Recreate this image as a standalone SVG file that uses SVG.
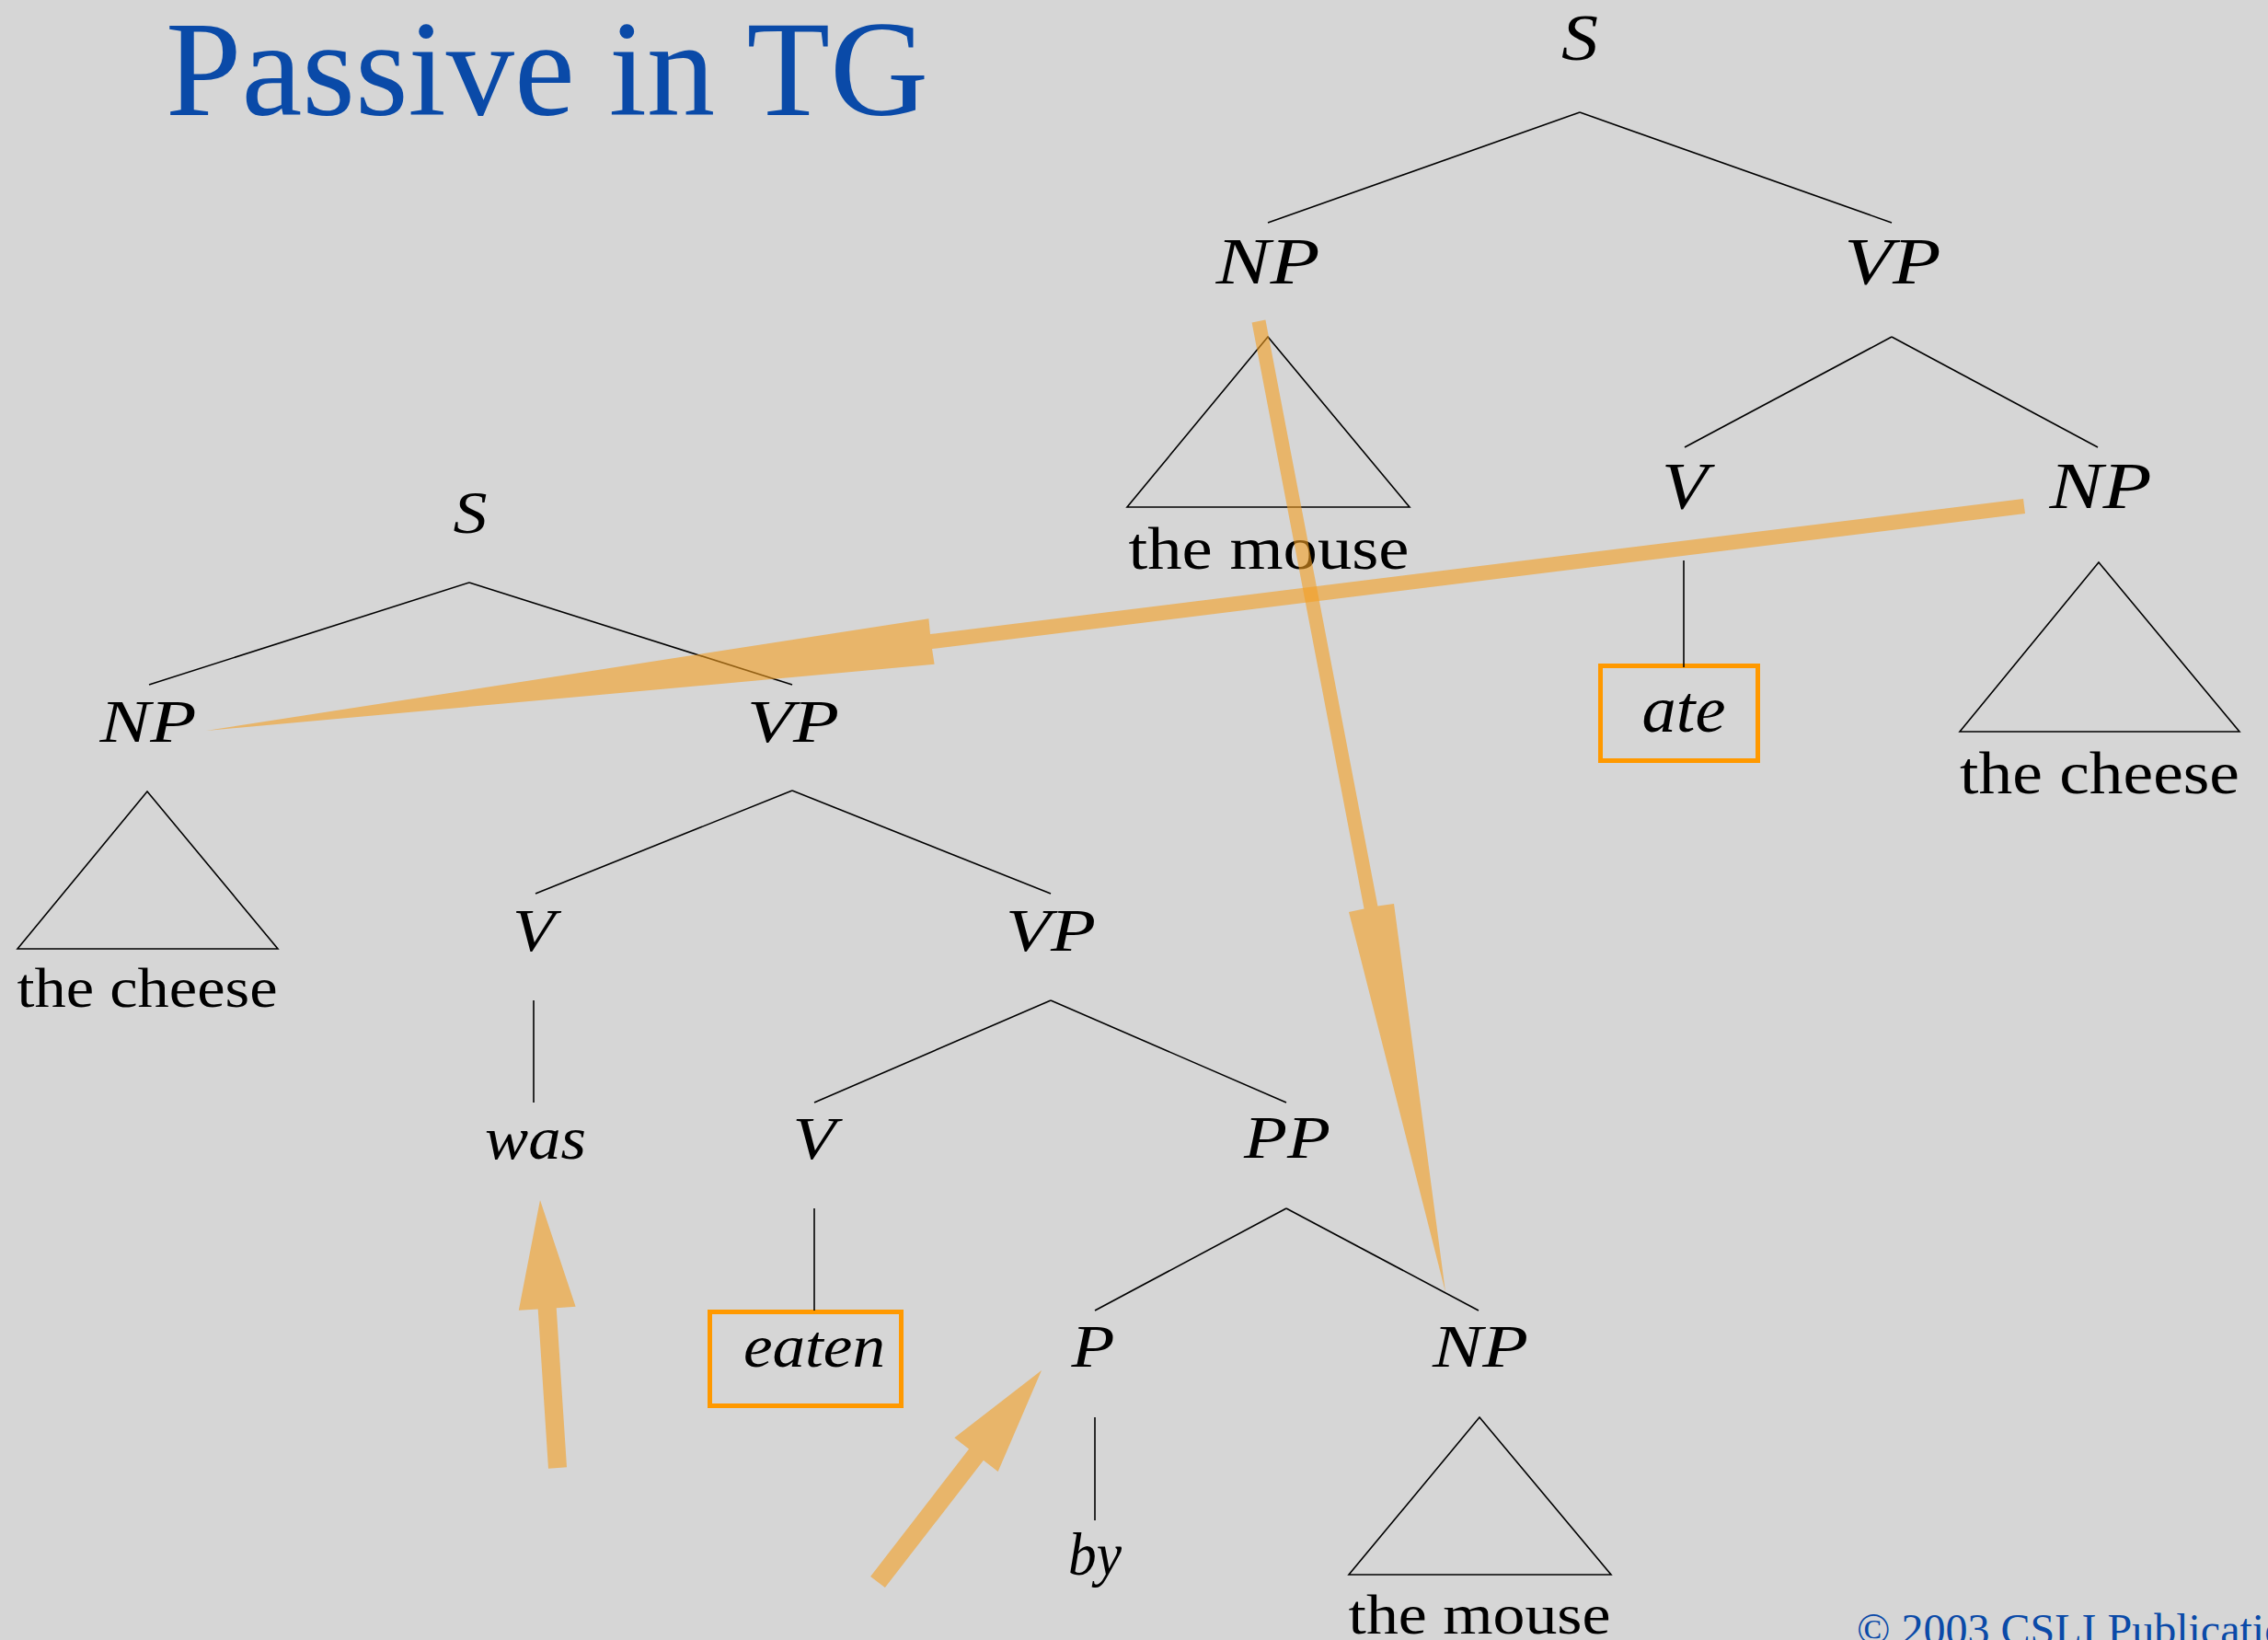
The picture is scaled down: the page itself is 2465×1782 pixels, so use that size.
<svg xmlns="http://www.w3.org/2000/svg" width="2465" height="1782" viewBox="0 0 2465 1782">
<style>
.bg{fill:#d6d6d6}
.title{font-family:"Liberation Serif",serif;fill:#0a4aa8}
.it{font-family:"Liberation Serif",serif;font-style:italic;fill:#000;text-anchor:middle}
.rm{font-family:"Liberation Serif",serif;fill:#000;text-anchor:middle}
.big{font-size:71px}
.bigr{font-size:66px}
.sm{font-size:66px}
.smr{font-size:62px}
.edge{stroke:#000;stroke-width:1.6;fill:none}
.tri{stroke:#000;stroke-width:1.6;fill:none;stroke-linejoin:miter}
.box{stroke:#ff9900;stroke-width:5;fill:none}
.mv{fill:#f39f22;fill-opacity:0.6}
</style>
<rect class="bg" x="0" y="0" width="2465" height="1782"/>
<text class="title" x="180" y="125" font-size="148" textLength="829" lengthAdjust="spacingAndGlyphs">Passive in TG</text>

<g id="active-tree">
<g id="a-S"><text class="it big" x="1717" y="65" textLength="40" lengthAdjust="spacingAndGlyphs">S</text></g>
<g id="a-NP"><text class="it big" x="1378" y="308" textLength="113" lengthAdjust="spacingAndGlyphs">NP</text></g>
<g id="a-VP"><text class="it big" x="2057" y="308" textLength="105" lengthAdjust="spacingAndGlyphs">VP</text></g>
<g id="a-NP-mouse"><polygon class="tri" points="1378,366 1225,551 1532,551"/><text class="rm bigr" x="1379" y="618" textLength="305" lengthAdjust="spacingAndGlyphs">the mouse</text></g>
<g id="a-V"><text class="it big" x="1831" y="552" textLength="50" lengthAdjust="spacingAndGlyphs">V</text></g>
<g id="a-NP2"><text class="it big" x="2283" y="552" textLength="111" lengthAdjust="spacingAndGlyphs">NP</text></g>
<g id="a-ate"><rect class="box" x="1739.5" y="723.5" width="171" height="103"/><text class="it big" x="1830" y="795" textLength="91" lengthAdjust="spacingAndGlyphs">ate</text></g>
<g id="a-NP2-cheese"><polygon class="tri" points="2281,611 2130,795 2434,795"/><text class="rm bigr" x="2282" y="862" textLength="304" lengthAdjust="spacingAndGlyphs">the cheese</text></g>
</g>

<g id="passive-tree">
<g id="p-S"><text class="it sm" x="511" y="579" textLength="37" lengthAdjust="spacingAndGlyphs">S</text></g>
<g id="p-NP"><text class="it sm" x="161" y="806" textLength="105" lengthAdjust="spacingAndGlyphs">NP</text></g>
<g id="p-VP"><text class="it sm" x="862" y="806" textLength="100" lengthAdjust="spacingAndGlyphs">VP</text></g>
<g id="p-NP-cheese"><polygon class="tri" points="160,860 19,1031 302,1031"/><text class="rm smr" x="160" y="1094" textLength="283" lengthAdjust="spacingAndGlyphs">the cheese</text></g>
<g id="p-V"><text class="it sm" x="580" y="1033" textLength="46" lengthAdjust="spacingAndGlyphs">V</text></g>
<g id="p-VP2"><text class="it sm" x="1142" y="1033" textLength="98" lengthAdjust="spacingAndGlyphs">VP</text></g>
<g id="p-was"><text class="it sm" x="582" y="1259" textLength="110" lengthAdjust="spacingAndGlyphs">was</text></g>
<g id="p-V2"><text class="it sm" x="885" y="1259" textLength="47" lengthAdjust="spacingAndGlyphs">V</text></g>
<g id="p-PP"><text class="it sm" x="1399" y="1258" textLength="94" lengthAdjust="spacingAndGlyphs">PP</text></g>
<g id="p-eaten"><rect class="box" x="771.5" y="1425.5" width="208" height="102"/><text class="it sm" x="885" y="1485" textLength="154" lengthAdjust="spacingAndGlyphs">eaten</text></g>
<g id="p-P"><text class="it sm" x="1188" y="1485" textLength="47" lengthAdjust="spacingAndGlyphs">P</text></g>
<g id="p-NP3"><text class="it sm" x="1609" y="1485" textLength="104" lengthAdjust="spacingAndGlyphs">NP</text></g>
<g id="p-by"><text class="it sm" x="1190" y="1711" textLength="58" lengthAdjust="spacingAndGlyphs">by</text></g>
<g id="p-NP3-mouse"><polygon class="tri" points="1608,1540 1466,1711 1751,1711"/><text class="rm smr" x="1608" y="1775" textLength="285" lengthAdjust="spacingAndGlyphs">the mouse</text></g>
</g>

<g id="connectors">
<g id="tree-edges">
<line class="edge" x1="1717" y1="122" x2="1378" y2="242"/>
<line class="edge" x1="1717" y1="122" x2="2056" y2="242"/>
<line class="edge" x1="2056" y1="366" x2="1831" y2="486"/>
<line class="edge" x1="2056" y1="366" x2="2280" y2="486"/>
<line class="edge" x1="1830" y1="609" x2="1830" y2="725"/>
<line class="edge" x1="510" y1="633" x2="162" y2="744"/>
<line class="edge" x1="510" y1="633" x2="861" y2="744"/>
<line class="edge" x1="861" y1="859" x2="582" y2="971"/>
<line class="edge" x1="861" y1="859" x2="1142" y2="971"/>
<line class="edge" x1="580" y1="1087" x2="580" y2="1198"/>
<line class="edge" x1="1142" y1="1087" x2="885" y2="1198"/>
<line class="edge" x1="1142" y1="1087" x2="1398" y2="1198"/>
<line class="edge" x1="885" y1="1313" x2="885" y2="1424"/>
<line class="edge" x1="1398" y1="1313" x2="1190" y2="1424"/>
<line class="edge" x1="1398" y1="1313" x2="1607" y2="1424"/>
<line class="edge" x1="1190" y1="1540" x2="1190" y2="1652"/>
</g>
<g id="movement-arrows">
<polygon class="mv" points="1375.4,347.6 1497.4,984.6 1515,982 1571,1404 1466,991 1482.6,987.4 1360.6,350.4"/>
<polygon class="mv" points="2199,542 1011,689 1009.4,672.2 224,794 1015.6,721.8 1013,705 2201,558"/>
<polygon class="mv" points="596,1595.7 584.7,1422.5 563.8,1423.8 587,1304 625.6,1419.8 604.7,1421.2 616,1594.3"/>
<polygon class="mv" points="946.1,1712.9 1053.1,1574.6 1037.3,1562.3 1132,1489 1084.7,1599.1 1068.9,1586.8 961.9,1725.1"/>
</g>
</g>

<text class="title" x="2018" y="1787" font-size="48">© 2003 CSLI Publications</text>
</svg>
